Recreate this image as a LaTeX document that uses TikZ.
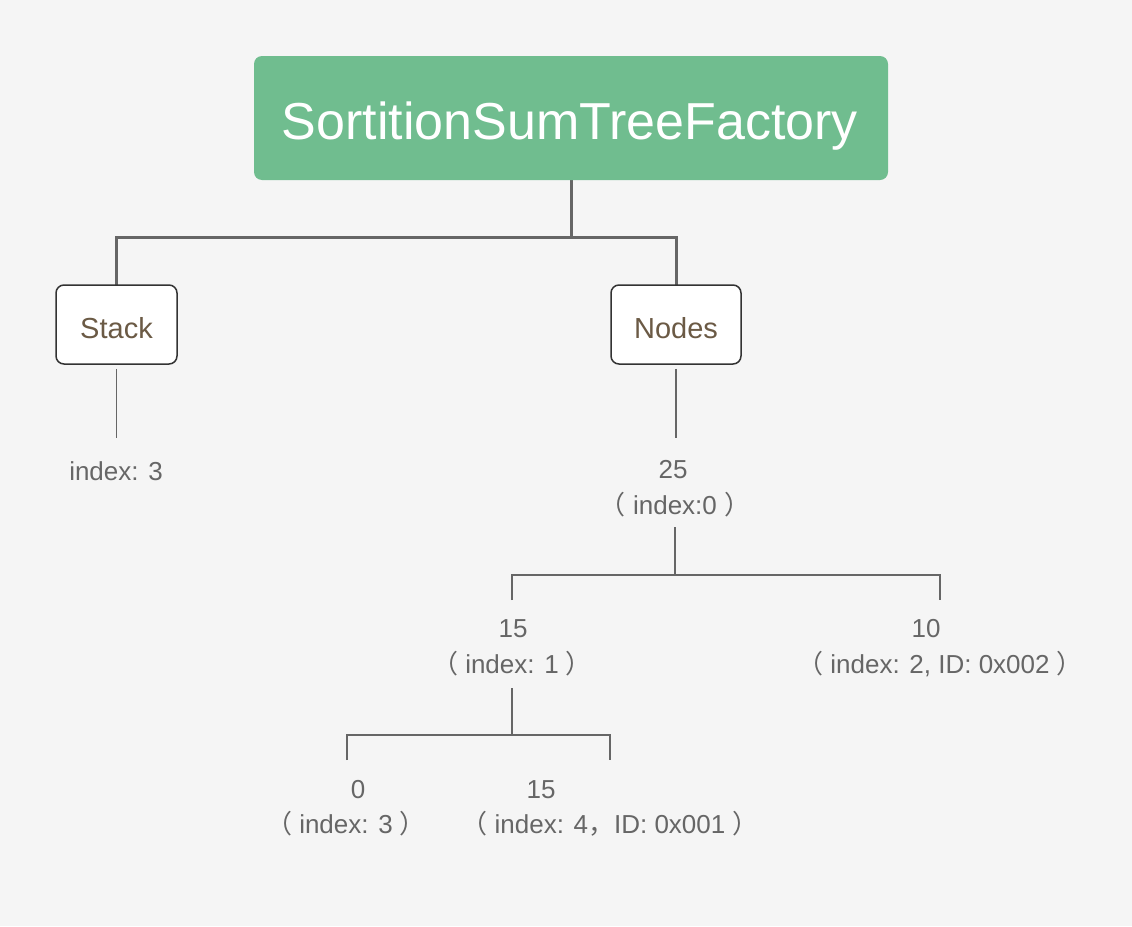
\documentclass[tikz,border=0pt]{standalone}
\usepackage{fontspec}
\setmainfont{Liberation Sans}
\newfontfamily\cjk{Noto Sans CJK SC}
% full-width brackets and comma
\newcommand\zkL{{\cjk （}\ }
\newcommand\zkR{\ {\cjk ）}}
\newcommand\zkC{{\cjk ，}}
\definecolor{bg}{HTML}{F5F5F5}
\definecolor{leaf}{HTML}{70BD8F}
\definecolor{wire}{HTML}{666666}
\definecolor{labelgray}{HTML}{666666}
\definecolor{boxtext}{HTML}{6B5A45}
\definecolor{boxline}{HTML}{333333}

\begin{document}
\begin{tikzpicture}[x=1pt,y=-1pt,
  title/.style={fill=leaf, rounded corners=8pt, minimum width=634pt,
    minimum height=124pt, text=white, inner sep=0pt,
    font=\fontsize{52}{60}\selectfont},
  member/.style={draw=boxline, line width=1.5pt, fill=white,
    rounded corners=8pt, minimum height=79pt, text=boxtext, inner sep=0pt,
    font=\fontsize{29}{34}\selectfont},
  val/.style={text=labelgray, font=\fontsize{26}{30}\selectfont,
    anchor=base, inner sep=0pt},
  trunk/.style={draw=wire, line width=3pt},
  mid/.style={draw=wire, line width=2pt},
  twig/.style={draw=wire, line width=1.5pt},
]
% canvas
\fill[bg] (0,0) rectangle (1132,926);

% junction points of the elbow connectors
\coordinate (j0) at (571,237);
\coordinate (sdrop) at (116.5,438);
\coordinate (ndrop) at (676,438);
\coordinate (j1) at (675,575);
\coordinate (a1) at (512,600);
\coordinate (b1) at (940,600);
\coordinate (j2) at (512,735);
\coordinate (a2) at (347,760);
\coordinate (b2) at (610,760);

% connectors
\draw[trunk] (571,180) -- (j0);
\draw[trunk] (116.5,285) |- (j0) -| (676,285);

% boxes
\node[title] (root) at (571,118) {};
\node[text=white, font=\fontsize{52}{60}\selectfont, anchor=base, inner sep=0pt]
  (rootlbl) at (570,139) {SortitionSumTreeFactory};
\node[member, minimum width=121pt] (stack) at (116.5,324.5) {};
\node[member, minimum width=130pt] (nodes) at (676,324.5) {};
\node[text=boxtext, font=\fontsize{29}{34}\selectfont, anchor=base, inner sep=0pt]
  (stacklbl) at (116.5,338) {Stack};
\node[text=boxtext, font=\fontsize{29}{34}\selectfont, anchor=base, inner sep=0pt]
  (nodeslbl) at (676,338) {Nodes};

% values
\node[val] (sidx) at (116,480) {index: 3};
\node[val] (v0) at (673,478) {25};
\node[val] (i0) at (675,514) {\zkL index:0\zkR};
\node[val] (v1) at (513,637) {15};
\node[val] (i1) at (512,673) {\zkL index: 1\zkR};
\node[val] (v2) at (926,637) {10};
\node[val] (i2) at (940,673) {\zkL index: 2, ID: 0x002\zkR};
\node[val] (v3) at (358,798) {0};
\node[val] (i3) at (346,833) {\zkL index: 3\zkR};
\node[val] (v4) at (541,798) {15};
\node[val] (i4) at (610,833) {\zkL index: 4\zkC ID: 0x001\zkR};

\draw[twig] ([yshift=-4pt]stack.south) -- (sdrop);
\draw[twig] ([yshift=-4pt]nodes.south) -- (ndrop);

\draw[mid] ([yshift=-13pt]i0.base) -- (j1);
\draw[mid] (a1) |- (j1) -| (b1);

\draw[mid] ([yshift=-15pt]i1.base) -- (j2);
\draw[mid] (a2) |- (j2) -| (b2);
\end{tikzpicture}
\end{document}
